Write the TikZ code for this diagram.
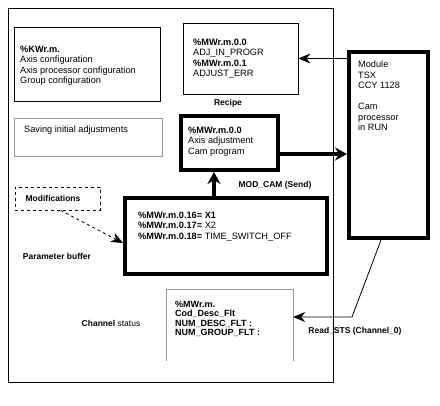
\documentclass[tikz,border=0pt]{standalone}
\usepackage{fontspec}
\setmainfont{Liberation Sans}
\usetikzlibrary{arrows.meta,positioning}

\tikzset{
  thinbox/.style={draw, line width=0.8pt, inner sep=0pt},
  greybox/.style={draw=black!40, line width=0.8pt, inner sep=0pt},
  thickbox/.style={draw, line width=4pt, inner sep=0pt},
  dashbox/.style={draw, dashed, line width=0.6pt, inner sep=0pt},
  boxtext/.style={anchor=north west, inner sep=0pt, align=left,
    font=\fontsize{9.2}{10.5}\selectfont},
  lbl/.style={inner sep=0pt, font=\fontsize{8.5}{10}\selectfont\bfseries},
  thinarrow/.style={line width=0.8pt, -{Stealth[length=12pt,width=10pt]}},
  thickarrow/.style={line width=4pt, -{Stealth[length=12pt,width=13pt]}}
}

\begin{document}
\begin{tikzpicture}[x=1pt,y=-1pt]
        \useasboundingbox (0,0) rectangle (440,406);

        % Outer frame
        \node[thinbox, minimum width=325pt, minimum height=374pt] (frame) at (170.5,195) {};

        % Configuration boxes
        \node[thinbox, minimum width=146pt, minimum height=74pt] (kw) at (87,64) {};
        \node[boxtext] (kwtext) at (20,45.7)
            {\textbf{\%KWr.m.}\\Axis configuration\\Axis processor configuration\\Group configuration};

        \node[greybox, minimum width=148pt, minimum height=38pt] (saving) at (88,137) {};
        \node[anchor=west, inner sep=0pt, font=\fontsize{9.2}{10.5}\selectfont] (savingtext) at (24,130)
            {Saving initial adjustments};

        \node[thinbox, minimum width=115pt, minimum height=71pt] (adj) at (240.5,58.5) {};
        \node[boxtext] (adjtext) at (193,38.7)
            {\textbf{\%MWr.m.0.0}\\ADJ\_IN\_PROGR\\\textbf{\%MWr.m.0.1}\\ADJUST\_ERR};

        % Recipe
        \node[lbl] (recipelbl) at (228,103) {Recipe};
        \node[thickbox, minimum width=97pt, minimum height=54pt] (recipe) at (229.5,143) {};
        \node[boxtext] (recipetext) at (188,126.7)
            {\textbf{\%MWr.m.0.0}\\Axis adjustment\\Cam program};

        % Module
        \node[thickbox, minimum width=79pt, minimum height=186pt] (module) at (388.5,145) {};
        \node[boxtext] (moduletext) at (358,60.7)
            {Module\\TSX\\CCY 1128\\[10.5pt]Cam\\processor\\in RUN};

        % Parameter buffer
        \node[thickbox, minimum width=202pt, minimum height=76pt] (modcam) at (226,236) {};
        \node[boxtext] (modcamtext) at (138,211.7)
            {\textbf{\%MWr.m.0.16= X1}\\\textbf{\%MWr.m.0.17=} X2\\\textbf{\%MWr.m.0.18=} TIME\_SWITCH\_OFF};
        \node[lbl] (paramlbl) at (57,256) {Parameter buffer};
        \node[lbl] (sendlbl) at (275,185) {MOD\_CAM (Send)};

        \node[dashbox, minimum width=85pt, minimum height=23pt] (mods) at (57.5,198.5) {};
        \node[lbl] (modslbl) at (53,198) {Modifications};

        % Channel status (open at the bottom)
        \node[minimum width=126pt, minimum height=71pt, inner sep=0pt] (chan) at (230,325.5) {};
        \draw[draw=black!40, line width=0.8pt]
            (chan.south west) -- (chan.north west) -- (chan.north east) -- (chan.south east);
        \node[boxtext, font=\fontsize{9}{9.6}\selectfont\bfseries] (chantext) at (175,300.7)
            {\%MWr.m.\\Cod\_Desc\_Flt\\NUM\_DESC\_FLT :\\NUM\_GROUP\_FLT :};
        \node[lbl] (chanlbl) at (111,323) {Channel \textmd{status}};
        \node[lbl] (readlbl) at (355,331) {Read\_STS (Channel\_0)};

        % Connectors
        \coordinate (sendx) at (214,0);
        \coordinate (bend) at (352,317);
        \draw[thickarrow] (modcam.north -| sendx) -- (recipe.south -| sendx);
        \draw[thickarrow] ([yshift=-11pt]recipe.east) -- ([yshift=-11pt]module.west |- recipe.east);
        \draw[thinarrow] (module.west |- adj.east) -- (adj.east);
        \draw[thinarrow, dashed] ([xshift=3pt]mods.south) -- ([yshift=-7pt]modcam.west);
        \draw[thinarrow] ([xshift=-7.5pt]module.south) -- (bend) -- (chan.east |- bend);

    \end{tikzpicture}
\end{document}
